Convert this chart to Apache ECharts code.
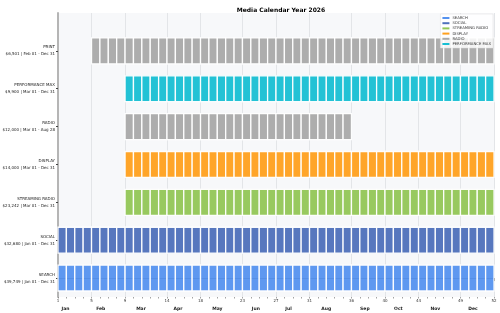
<!DOCTYPE html>
<html>
<head>
<meta charset="utf-8">
<script src="https://cdn.jsdelivr.net/npm/echarts@6/dist/echarts.min.js"></script>
<style>
  html, body { margin: 0; padding: 0; background: #fff; }
  #chart { width: 500px; height: 313px; }
</style>
</head>
<body>
<div id="chart"></div>
<script>
// rows listed bottom -> top
const channels = ['SEARCH', 'SOCIAL', 'STREAMING RADIO', 'DISPLAY', 'RADIO', 'PERFORMANCE MAX', 'PRINT']
const budgets = ['$39,749', '$32,680', '$23,242', '$14,000', '$12,000', '$9,900', '$6,501']
const dateRanges = ['Jan 01 - Dec 31', 'Jan 01 - Dec 31', 'Mar 01 - Dec 31', 'Mar 01 - Dec 31', 'Mar 01 - Aug 28', 'Mar 01 - Dec 31', 'Feb 01 - Dec 31']
const startWeek = [0, 0, 8, 8, 8, 8, 4]
const endWeek = [52, 52, 52, 52, 35, 52, 52]
const colors = ['#5592ef', '#4e70bb', '#92c656', '#ffa01e', '#a9a9a9', '#17bfd3', '#a9a9a9']
const legendNames = ['SEARCH', 'SOCIAL', 'STREAMING RADIO', 'DISPLAY', 'RADIO', 'PERFORMANCE MAX']

// month starts (week index) and the week-number labels shown there
const monthTicks = [0, 4, 8, 13, 17, 22, 26, 30, 35, 39, 43, 48, 52]
const weekLabels = ['1', '5', '9', '14', '18', '23', '27', '31', '36', '40', '44', '49', '52']
const monthNames = ['Jan', 'Feb', 'Mar', 'Apr', 'May', 'Jun', 'Jul', 'Aug', 'Sep', 'Oct', 'Nov', 'Dec']
const monthLabelPos = [0.9, 5.1, 9.9, 14.3, 19, 23.6, 27.5, 32, 36.6, 40.6, 45, 49.5]

const font = 'DejaVu Sans'

const renderBlock = (params, api) => {
    const w = api.value(0)
    const row = api.value(1)
    const p0 = api.coord([w, row])
    const p1 = api.coord([w + 1, row])
    const h = api.size([0, 0.684])[1]
    return {
        type: 'rect',
        shape: { x: p0[0], y: p0[1] - h / 2, width: p1[0] - p0[0], height: h },
        style: { fill: api.visual('color'), stroke: '#ffffff', lineWidth: 1.3, opacity: 0.95 }
    }
}

const series = channels.map((name, i) => {
    const data = []
    for (let w = startWeek[i]; w < endWeek[i]; w++) data.push([w, i])
    return {
        name: name,
        type: 'custom',
        renderItem: renderBlock,
        itemStyle: { color: colors[i] },
        encode: { x: 0, y: 1 },
        data: data,
        z: 3
    }
})

const myChart = echarts.init(document.getElementById('chart'), null, { renderer: 'canvas' })

myChart.setOption({
    animation: false,
    textStyle: { fontFamily: font },
    title: {
        text: 'Media Calendar Year 2026',
        left: 276,
        textAlign: 'center',
        top: 2,
        textStyle: { fontSize: 6, fontWeight: 'bold', color: '#000', fontFamily: font }
    },
    legend: {
        data: legendNames,
        orient: 'vertical',
        right: 7,
        top: 14,
        itemWidth: 7,
        itemHeight: 2,
        itemGap: 1.2,
        icon: 'rect',
        padding: [2, 2, 2, 2],
        backgroundColor: 'rgba(255,255,255,0.85)',
        borderColor: '#dddddd',
        borderWidth: 0.5,
        textStyle: { fontSize: 3.8, color: '#333', fontFamily: font, padding: [0, 0, 0, -2] }
    },
    grid: {
        left: 58, right: 6, top: 13, bottom: 16,
        outerBoundsMode: 'none',
        containLabel: false,
        show: true,
        backgroundColor: '#f7f8fa',
        borderWidth: 0
    },
    xAxis: [
        {
            type: 'value', min: 0, max: 52, position: 'bottom',
            axisLine: { show: true, lineStyle: { color: '#444', width: 1 } },
            axisTick: { show: true, customValues: monthTicks, length: 3, lineStyle: { color: '#444' } },
            axisLabel: {
                customValues: monthTicks,
                formatter: (v) => weekLabels[monthTicks.indexOf(v)],
                fontSize: 4, color: '#333', margin: 2
            },
            splitLine: { show: true, lineStyle: { color: '#e3e5e8', width: 1 } }
        },
        {
            type: 'value', min: 0, max: 52, interval: 1, position: 'bottom',
            axisLine: { show: false },
            axisTick: { show: true, length: 1.5, lineStyle: { color: '#666', width: 0.6 } },
            axisLabel: { show: false },
            splitLine: { show: false }
        },
        {
            type: 'value', min: 0, max: 52, position: 'bottom',
            axisLine: { show: false },
            axisTick: { show: false, customValues: monthLabelPos },
            axisLabel: {
                customValues: monthLabelPos,
                formatter: (v) => monthNames[monthLabelPos.indexOf(v)],
                fontSize: 4.5, fontWeight: 'bold', color: '#222', margin: 9
            },
            splitLine: { show: false }
        }
    ],
    yAxis: {
        type: 'value', min: -0.5, max: 7,
        axisLine: { show: true, lineStyle: { color: '#b5b5b5', width: 2 } },
        axisTick: { show: true, customValues: [0, 1, 2, 3, 4, 5, 6], length: 2, lineStyle: { color: '#444' } },
        axisLabel: {
            customValues: [0, 1, 2, 3, 4, 5, 6],
            formatter: (v) => channels[v] + '\n' + budgets[v] + ' | ' + dateRanges[v],
            fontSize: 4, color: '#222', align: 'right', lineHeight: 7, margin: 3
        },
        splitLine: { show: false }
    },
    series: series
})
</script>
</body>
</html>
